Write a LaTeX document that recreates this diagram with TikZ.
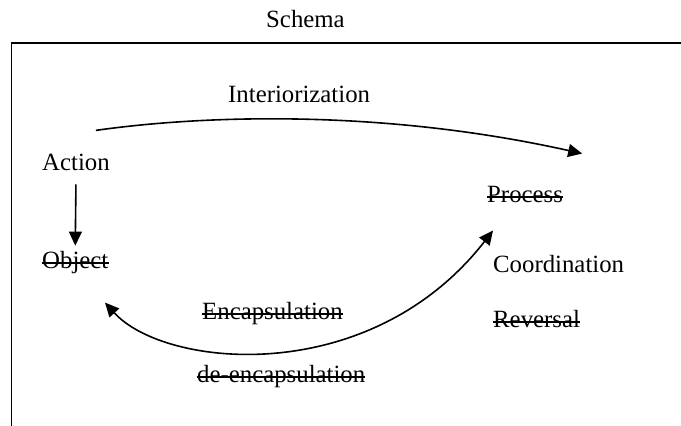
\documentclass[tikz,border=0pt]{standalone}
\usepackage{fontspec}
\setmainfont{Liberation Serif}
\usetikzlibrary{arrows.meta,calc}
\begin{document}
\begin{tikzpicture}[x=1pt,y=-1pt,
  lbl/.style={anchor=base west,inner sep=0pt,font=\fontsize{24.8}{30}\selectfont},
  conn/.style={line width=1.6pt,-{Triangle[length=14pt,width=13pt]}},
  strike/.style={line width=1.5pt},
  frame/.style={line width=1.8pt}]
\useasboundingbox (0,0) rectangle (681,426);
% frame
\draw[frame] (681,43) -- (11.5,43) -- (11.5,426);
% labels
\node[lbl] (schema) at (266,27) {Schema};
\node[lbl] (inter) at (228,102) {Interiorization};
\node[lbl] (action) at (42,170) {Action};
\node[lbl] (object) at (42,268) {Object};
\node[lbl] (process) at (487,202) {Process};
\node[lbl] (coord) at (493,272) {Coordination};
\node[lbl] (rev) at (493,327) {Reversal};
\node[lbl] (encap) at (202,319) {Encapsulation};
\node[lbl] (deencap) at (197,382) {de-encapsulation};
% strike-through
\foreach \n in {object,process,rev,encap,deencap}
  \draw[strike] ([yshift=5pt]\n.base west) -- ([yshift=5pt]\n.base east);
% connector endpoints
\coordinate (iS) at ($(action.north east)+(-14,-23)$);
\coordinate (iE) at ($(process.north east)+(19,-32)$);
\coordinate (eR) at ($(coord.north west)+(0,-24)$);
\coordinate (eL) at ($(encap.north west)+(-97,1)$);
% connectors
\draw[conn] (iS) .. controls ($(iS)+(105,-15)$) and ($(iE)+(-202,-45)$) .. (iE);
\draw[conn] ([yshift=-14pt]action.south) -- ([yshift=5pt]object.north);
\draw[conn,{Triangle[length=14pt,width=13pt]}-{Triangle[length=14pt,width=13pt]}]
  (eL) .. controls ($(eL)+(60,66)$) and ($(eR)+(-123,158)$) .. (eR);
\end{tikzpicture}
\end{document}
